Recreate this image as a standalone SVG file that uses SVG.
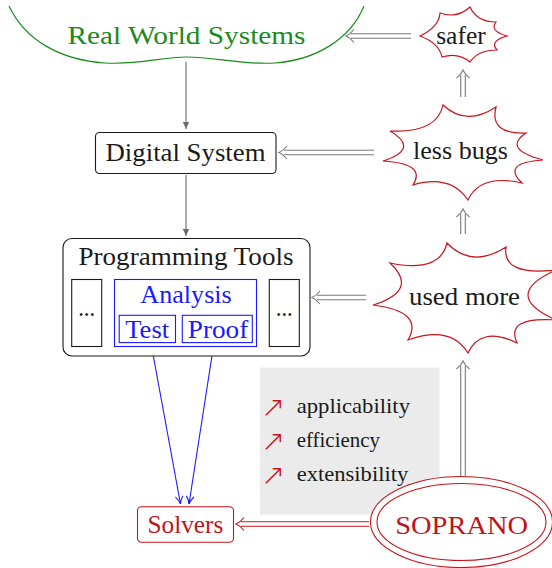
<svg xmlns="http://www.w3.org/2000/svg" width="552" height="568" viewBox="0 0 552 568">
<defs>
<style>
.t{font-family:"Liberation Serif","DejaVu Serif",serif;font-size:24.8px;fill:#1a1a1a;text-anchor:middle}
.g{fill:#1a8a1a}
.b{fill:#1a1aff}
.r{fill:#c0141c}
.s{font-size:20.7px;text-anchor:start}
.box{fill:#fff;stroke:#1a1a1a;stroke-width:1.1}
.bbox{fill:none;stroke:#1a1aff;stroke-width:1.1}
.cloud{fill:#fff;stroke:#c8141c;stroke-width:1.2;stroke-linejoin:miter}
.ga{stroke:#6a6a6a;stroke-width:1.1;fill:none}
.dl{stroke:#7a7a7a;stroke-width:1.1;fill:none}
.rl{stroke:#c8141c;stroke-width:1.1;fill:none}
.bl{stroke:#1a1aff;stroke-width:1.1;fill:none}
.na{font-family:"DejaVu Sans",sans-serif;font-weight:200;fill:#c8141c;font-size:29px}
</style>
<marker id="tri" viewBox="0 0 10 10" refX="10" refY="5" markerWidth="7" markerHeight="7" markerUnits="userSpaceOnUse" orient="auto">
<path d="M0,0.5 L10,5 L0,9.5 z" fill="#6a6a6a"/>
</marker>
<marker id="bto" viewBox="0 0 10 10" refX="9.5" refY="5" markerWidth="9" markerHeight="9" markerUnits="userSpaceOnUse" orient="auto">
<path d="M1,0.8 Q5,4 9.5,5 Q5,6 1,9.2" fill="none" stroke="#1a1aff" stroke-width="1.2"/>
</marker>
</defs>

<g id="connectors">
<line class="ga" x1="186" y1="62" x2="186" y2="129" marker-end="url(#tri)"/>
<line class="ga" x1="186" y1="175" x2="186" y2="236" marker-end="url(#tri)"/>
<line class="bl" x1="151.5" y1="346" x2="180.5" y2="504" marker-end="url(#bto)"/>
<line class="bl" x1="213.5" y1="346" x2="189" y2="504" marker-end="url(#bto)"/>
<g class="dl">
<line x1="351" y1="33.7" x2="411" y2="33.7"/><line x1="351" y1="38.3" x2="411" y2="38.3"/>
<path d="M354,29.5 Q350,34.5 346,36 Q350,37.5 354,42.5"/>
</g>
<g class="dl">
<line x1="284" y1="150.2" x2="374" y2="150.2"/><line x1="284" y1="154.8" x2="374" y2="154.8"/>
<path d="M287,146 Q283,151 279,152.5 Q283,154 287,159"/>
</g>
<g class="dl">
<line x1="317" y1="295.2" x2="366" y2="295.2"/><line x1="317" y1="299.8" x2="366" y2="299.8"/>
<path d="M320,291 Q316,296 312,297.5 Q316,299 320,304"/>
</g>
<g class="dl">
<line x1="460.7" y1="75" x2="460.7" y2="97"/><line x1="465.3" y1="75" x2="465.3" y2="97"/>
<path d="M456.5,78 Q461.5,74 463,70 Q464.5,74 469.5,78"/>
</g>
<g class="dl">
<line x1="460.7" y1="214" x2="460.7" y2="234"/><line x1="465.3" y1="214" x2="465.3" y2="234"/>
<path d="M456.5,217 Q461.5,213 463,209 Q464.5,213 469.5,217"/>
</g>
<g class="dl">
<line x1="460.7" y1="366" x2="460.7" y2="476"/><line x1="465.3" y1="366" x2="465.3" y2="476"/>
<path d="M456.5,369 Q461.5,365 463,361 Q464.5,365 469.5,369"/>
</g>
<g class="rl">
<line x1="241" y1="521.7" x2="369" y2="521.7"/><line x1="241" y1="526.3" x2="369" y2="526.3"/>
<path d="M244,517.5 Q240,522.5 236,524 Q240,525.5 244,530.5"/>
</g>
</g>

<g id="real-world-systems">
<path d="M9,6 C25,40 60,60 105,63 C140,65 160,57 187,57 C215,57 240,65 275,63 C315,60 350,40 364,6" fill="none" stroke="#1a8a1a" stroke-width="1.2"/>
<text class="t g" x="186.5" y="44" font-size="25" textLength="238" lengthAdjust="spacingAndGlyphs">Real World Systems</text>
</g>

<g id="digital-system">
<rect class="box" x="95.5" y="132.5" width="180.5" height="41" rx="4"/>
<text class="t" x="185.5" y="161" textLength="160" lengthAdjust="spacingAndGlyphs">Digital System</text>
</g>

<g id="programming-tools">
<rect class="box" x="63" y="238.5" width="247" height="117.5" rx="9"/>
<text class="t" x="186" y="265" textLength="215" lengthAdjust="spacingAndGlyphs">Programming Tools</text>
<g id="dots-left">
<rect class="box" x="71.7" y="279.5" width="30" height="67"/>
<text class="t" x="86.7" y="316" textLength="17" lengthAdjust="spacingAndGlyphs">...</text>
</g>
<g id="dots-right">
<rect class="box" x="269.3" y="279.5" width="30" height="67"/>
<text class="t" x="284.3" y="316" textLength="17" lengthAdjust="spacingAndGlyphs">...</text>
</g>
<g id="analysis">
<rect class="bbox" x="114.5" y="279.5" width="142" height="67"/>
<text class="t b" x="186" y="302.5" textLength="91.5" lengthAdjust="spacingAndGlyphs">Analysis</text>
<g id="test">
<rect class="bbox" x="119.2" y="315.3" width="56.3" height="27.3"/>
<text class="t b" x="147.2" y="337.5" textLength="44" lengthAdjust="spacingAndGlyphs">Test</text>
</g>
<g id="proof">
<rect class="bbox" x="182.3" y="315.3" width="70" height="27.3"/>
<text class="t b" x="218" y="337.5" textLength="60.5" lengthAdjust="spacingAndGlyphs">Proof</text>
</g>
</g>
</g>

<g id="solvers">
<rect x="137.5" y="506.7" width="96" height="35.6" rx="4" fill="#fff" stroke="#c8141c" stroke-width="1.1"/>
<text class="t r" x="185.4" y="533.3" textLength="76" lengthAdjust="spacingAndGlyphs">Solvers</text>
</g>

<g id="benefits">
<rect x="260" y="367.5" width="179.5" height="147" fill="#ebebeb"/>
<text class="na" x="261" y="416.5">↗</text>
<text class="na" x="261" y="451">↗</text>
<text class="na" x="261" y="485">↗</text>
<text class="t s" x="296.7" y="412.7" textLength="113.3" lengthAdjust="spacingAndGlyphs">applicability</text>
<text class="t s" x="296.7" y="447.3" textLength="83.3" lengthAdjust="spacingAndGlyphs">efficiency</text>
<text class="t s" x="296.7" y="480.7" textLength="111.6" lengthAdjust="spacingAndGlyphs">extensibility</text>
</g>

<g id="soprano">
<ellipse cx="461.5" cy="522" rx="91" ry="45.5" fill="#fff" stroke="#c8141c" stroke-width="1.1"/>
<ellipse cx="461.5" cy="522" rx="84.5" ry="38.5" fill="none" stroke="#c8141c" stroke-width="1.1"/>
<text class="t r" x="461.7" y="534" font-size="26.5" textLength="133" lengthAdjust="spacingAndGlyphs">SOPRANO</text>
</g>

<g id="safer">
<path class="cloud" d="M420,36 Q439,27 440,13 Q457,19 470,7 Q477,22 496,22 Q489,31 507,36 Q489,41 497,50 Q478,50 470,62 Q458,52 442,57 Q439,43 420,36 Z"/>
<text class="t" x="461" y="44" textLength="49.7" lengthAdjust="spacingAndGlyphs">safer</text>
</g>

<g id="less-bugs">
<path class="cloud" d="M383,161 Q420.5,148.7 390,131 Q437,133.3 443,105 Q466.1,126.7 496,107 Q489,134.4 526,133 Q501.9,149 543,160 Q500.8,162.7 522,183 Q480.2,173.5 468,200 Q450.2,174 413,185 Q426.8,163.6 383,161 Z"/>
<text class="t" x="460.5" y="158.5" textLength="95" lengthAdjust="spacingAndGlyphs">less bugs</text>
</g>

<g id="used-more">
<path class="cloud" d="M373,305 Q419.5,290.3 390,263 Q439.9,273.3 447,243 Q471.8,268.9 506,247 Q501.8,276.3 556,270 Q500,295 556,320 Q504.8,316.4 517,343 Q480.6,325.5 468,353 Q450.6,324.7 408,340 Q424.5,311.5 373,305 Z"/>
<text class="t" x="464.5" y="305" textLength="111" lengthAdjust="spacingAndGlyphs">used more</text>
</g>
</svg>
